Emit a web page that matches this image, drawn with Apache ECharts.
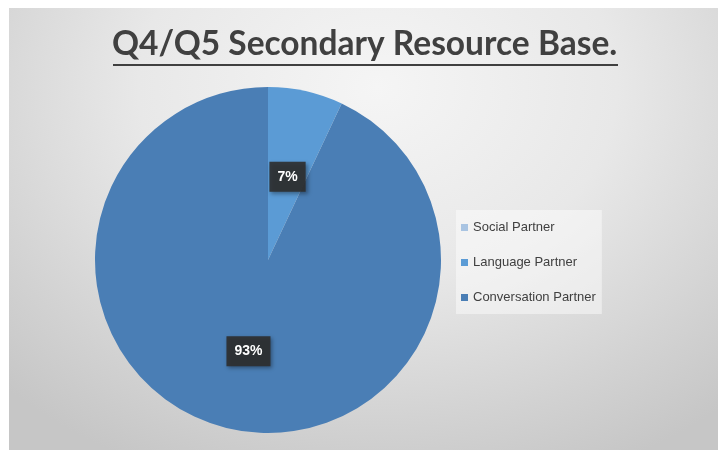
<!DOCTYPE html>
<html><head><meta charset="utf-8">
<script src="https://cdn.jsdelivr.net/npm/echarts@6/dist/echarts.min.js"></script>
<style>
html,body{margin:0;padding:0;background:#fff;}
#bg{position:absolute;left:9px;top:8px;width:709px;height:442px;background:radial-gradient(ellipse 75% 95% at 52% 18%, #f5f5f5 0%, #e8e8e8 45%, #d2d2d2 80%, #c6c6c6 100%);}
#chart{position:absolute;left:0;top:0;width:718px;height:450px;}
</style></head>
<body><div id="bg"></div><div id="chart"></div>
<script>
const titleText = 'Q4/Q5 Secondary Resource Base.';
const categories = ['Social Partner', 'Language Partner', 'Conversation Partner'];
const values = [0, 7, 93];
const colors = ['#A9C4E2', '#5B9BD5', '#4A7EB5'];

const chart = echarts.init(document.getElementById('chart'), null, {renderer:'canvas'});
const data = categories.map((c, i) => ({
  name: c, value: values[i],
  itemStyle: {color: colors[i]},
  label: {show: values[i] > 0}
}));
chart.setOption({
  backgroundColor: 'transparent',
  animation: false,
  graphic: [
    {type:'text', left: 112, top: 27, style:{text: titleText, font: 'bold 33.5px Lato', fill:'#404040'}},
    {type:'line', shape:{x1:113, y1:65, x2:618, y2:65}, style:{stroke:'#404040', lineWidth:2}}
  ],
  legend: {
    orient: 'vertical', left: 456, top: 210,
    data: categories,
    backgroundColor: 'rgba(255,255,255,0.45)',
    padding: [11, 6, 10, 5],
    itemWidth: 7, itemHeight: 7, itemGap: 22,
    icon: 'rect',
    textStyle: {color:'#404040', fontSize: 13, fontFamily:'Liberation Sans'}
  },
  series: [{
    type: 'pie',
    center: [268, 260], radius: [0, 173],
    startAngle: 90, clockwise: true,
    data: data,
    label: {
      position: 'inside',
      formatter: p => Math.round(p.percent) + '%',
      color: '#fff', fontWeight: 'bold', fontSize: 14, fontFamily: 'Liberation Sans',
      backgroundColor: 'rgba(45,45,45,0.9)',
      padding: [8, 8, 8, 8],
      shadowColor: 'rgba(0,0,0,0.4)', shadowBlur: 4, shadowOffsetX: 2, shadowOffsetY: 2
    },
    labelLayout: {dy: 4},
    labelLine: {show:false},
    emphasis: {disabled: true}
  }]
});
</script></body></html>
